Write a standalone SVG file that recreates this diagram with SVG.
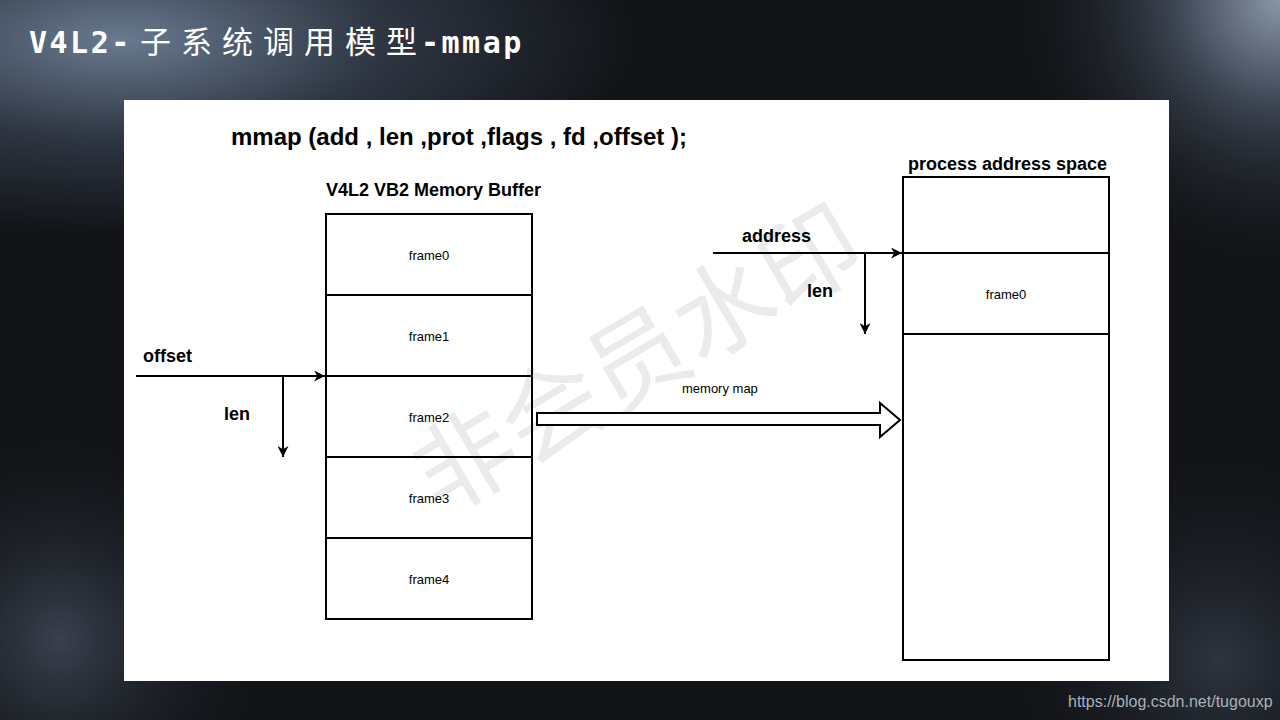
<svg xmlns="http://www.w3.org/2000/svg" width="1280" height="720" viewBox="0 0 1280 720">
<defs>
<radialGradient id="g1" cx="120" cy="40" r="320" gradientUnits="userSpaceOnUse" gradientTransform="translate(120 40) scale(1.6 0.6) rotate(10) translate(-120 -40)">
<stop offset="0" stop-color="#6a7a90"/><stop offset="0.5" stop-color="#2f3744"/><stop offset="1" stop-color="#2f3744" stop-opacity="0"/>
</radialGradient>
<radialGradient id="g2" cx="1280" cy="0" r="260" gradientUnits="userSpaceOnUse">
<stop offset="0" stop-color="#8a96a8"/><stop offset="0.4" stop-color="#3d4654"/><stop offset="1" stop-color="#1a1d22" stop-opacity="0"/>
</radialGradient>
<radialGradient id="g3" cx="60" cy="640" r="200" gradientUnits="userSpaceOnUse">
<stop offset="0" stop-color="#3a4250"/><stop offset="1" stop-color="#1a1d22" stop-opacity="0"/>
</radialGradient>
<radialGradient id="g4" cx="1220" cy="660" r="200" gradientUnits="userSpaceOnUse">
<stop offset="0" stop-color="#2e3440"/><stop offset="1" stop-color="#1a1d22" stop-opacity="0"/>
</radialGradient>
<marker id="ah" viewBox="0 0 10 10" refX="10" refY="5" markerWidth="11" markerHeight="11" markerUnits="userSpaceOnUse" orient="auto">
<path d="M0,0 L10,5 L0,10 L3,5 Z" fill="#000"/>
</marker>
<style>
.t{font-family:"Liberation Sans",Arial,sans-serif;font-weight:bold;fill:#000}
.f{font-family:"Liberation Sans",Arial,sans-serif;font-size:13px;fill:#000;text-anchor:middle}
.box{fill:none;stroke:#000;stroke-width:2}
.ln{stroke:#000;stroke-width:2;fill:none}
.lat{font-family:"DejaVu Sans Mono",monospace;font-size:30px;font-weight:bold;letter-spacing:2.5px}
.cjk{font-family:"Noto Sans CJK SC",sans-serif;font-size:31px;letter-spacing:10px}
</style>
</defs>
<rect width="1280" height="720" fill="#121418"/>
<rect width="1280" height="720" fill="url(#g1)"/>
<rect width="1280" height="720" fill="url(#g2)"/>
<rect width="1280" height="720" fill="url(#g3)"/>
<rect width="1280" height="720" fill="url(#g4)"/>
<text y="53" fill="#fff"><tspan class="lat" x="29">V4L2-</tspan><tspan class="cjk" x="140">子系统调用模型</tspan><tspan class="lat" x="421">-mmap</tspan></text>
<rect x="124" y="100" width="1045" height="581" fill="#fff"/>
<text x="638" y="395" transform="rotate(-30.5 638 360)" font-family="'Noto Sans CJK SC',sans-serif" font-size="100" fill="#ebebeb" text-anchor="middle">非会员水印</text>
<text class="t" x="231" y="145" font-size="24">mmap (add , len ,prot ,flags , fd ,offset );</text>
<g id="vb2">
<text class="t" x="326" y="196" font-size="18">V4L2 VB2 Memory Buffer</text>
<rect class="box" x="326" y="214" width="206" height="405"/>
<line class="ln" x1="326" y1="295" x2="532" y2="295"/>
<line class="ln" x1="326" y1="376" x2="532" y2="376"/>
<line class="ln" x1="326" y1="457" x2="532" y2="457"/>
<line class="ln" x1="326" y1="538" x2="532" y2="538"/>
<text class="f" x="429" y="260">frame0</text>
<text class="f" x="429" y="341">frame1</text>
<text class="f" x="429" y="422">frame2</text>
<text class="f" x="429" y="503">frame3</text>
<text class="f" x="429" y="584">frame4</text>
</g>
<g id="pas">
<text class="t" x="908" y="170" font-size="18">process address space</text>
<rect class="box" x="903" y="177" width="206" height="483"/>
<line class="ln" x1="903" y1="253" x2="1109" y2="253"/>
<line class="ln" x1="903" y1="334" x2="1109" y2="334"/>
<text class="f" x="1006" y="299">frame0</text>
</g>
<g id="connectors">
<line class="ln" x1="136" y1="376" x2="325" y2="376" marker-end="url(#ah)"/>
<line class="ln" x1="283" y1="376" x2="283" y2="457" marker-end="url(#ah)"/>
<line class="ln" x1="713" y1="253" x2="902" y2="253" marker-end="url(#ah)"/>
<line class="ln" x1="865" y1="253" x2="865" y2="334" marker-end="url(#ah)"/>
<path d="M537,413 L880,413 L880,403 L900,420 L880,437 L880,425 L537,425 Z" fill="#fff" stroke="#000" stroke-width="2"/>
<text class="t" x="143" y="362" font-size="18">offset</text>
<text class="t" x="224" y="420" font-size="18">len</text>
<text class="t" x="742" y="242" font-size="18">address</text>
<text class="t" x="807" y="297" font-size="18">len</text>
<text x="682" y="393" font-family="'Liberation Sans',Arial,sans-serif" font-size="13" fill="#000">memory map</text>
</g>
<text x="1068" y="707" font-family="'Liberation Sans',Arial,sans-serif" font-size="16" fill="#aab0b8">https://blog.csdn.net/tugouxp</text>
</svg>
